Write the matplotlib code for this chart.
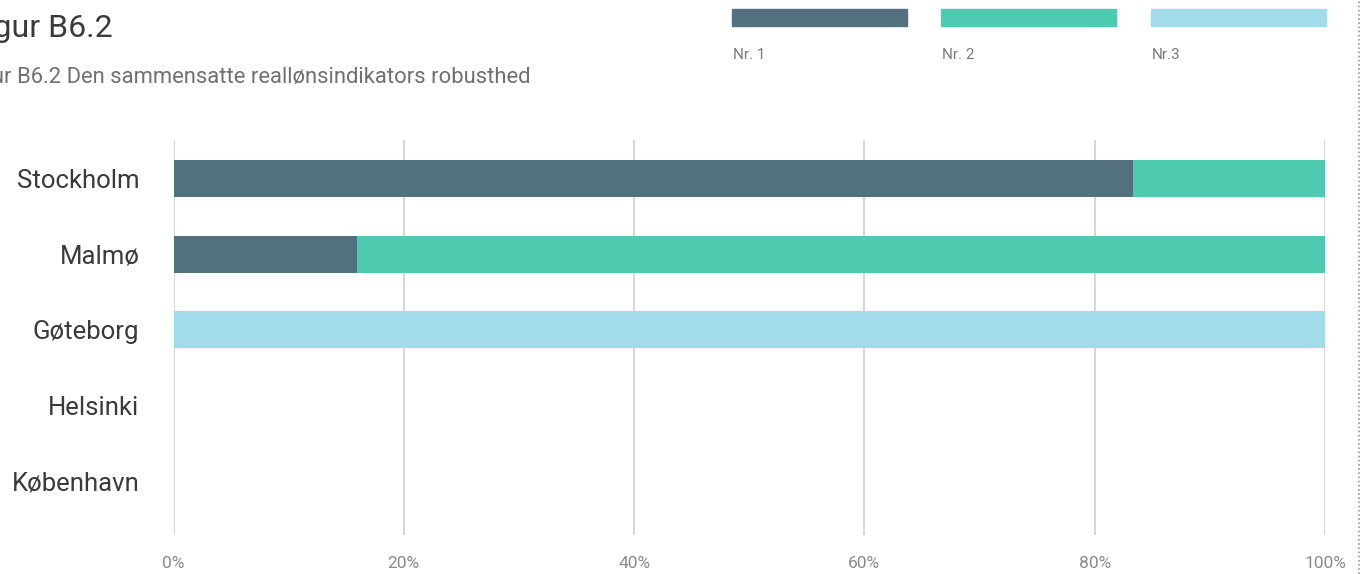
import matplotlib
matplotlib.use("Agg")
import matplotlib.pyplot as plt
from matplotlib.lines import Line2D
from matplotlib.patches import Rectangle

# Data
cities = ["Stockholm", "Malmø", "Gøteborg", "Helsinki", "København"]
series_names = ["Nr. 1", "Nr. 2", "Nr.3"]
nr1 = [83.3, 15.9, 0, 0, 0]
nr2 = [16.7, 84.1, 0, 0, 0]
nr3 = [0, 0, 100, 0, 0]
x_ticks = [0, 20, 40, 60, 80, 100]
x_tick_labels = ["0%", "20%", "40%", "60%", "80%", "100%"]

colors = ["#53707e", "#4ecab1", "#a2dcea"]
plt.rcParams["font.family"] = ["Roboto", "DejaVu Sans"]

W, H = 1362, 574
fig = plt.figure(figsize=(W / 100, H / 100), dpi=100)

def fx(px):
    return px / W

def fy(py):
    return 1 - py / H

ax = fig.add_axes([fx(173.5), fy(535), fx(1325) - fx(173.5), fy(140) - fy(535)])

ypos = list(range(len(cities)))
left = [0] * len(cities)
for vals, col in zip([nr1, nr2, nr3], colors):
    ax.barh(ypos, vals, left=left, height=0.49, color=col, zorder=3)
    left = [a + b for a, b in zip(left, vals)]

ax.set_xlim(0, 100)
ax.set_ylim(4.715, -0.51)
ax.set_xticks(x_ticks)
ax.set_xticklabels(x_tick_labels, color="#8a8a8a", fontsize=12.5)
ax.set_yticks(ypos)
ax.set_yticklabels(cities, color="#3a3a3a", fontsize=18.5)
ax.tick_params(axis="x", length=0, pad=15)
ax.tick_params(axis="y", length=0, pad=24.5)
ax.grid(axis="x", color="#d0d0d0", linewidth=1.2, zorder=0)
for s in ax.spines.values():
    s.set_visible(False)

# Title and subtitle
fig.text(fx(113), fy(37), "Figur B6.2", ha="right", va="baseline",
         fontsize=23, color="#3a3a3a")
fig.text(fx(531), fy(83), "Figur B6.2 Den sammensatte reallønsindikators robusthed",
         ha="right", va="baseline", fontsize=15.8, color="#707070")

# Legend swatches with labels underneath
legend_x = [732, 941, 1151]
for x0, col, name in zip(legend_x, colors, series_names):
    fig.patches.append(Rectangle((fx(x0), fy(26)), fx(175), fy(9) - fy(26),
                                 transform=fig.transFigure, color=col))
    fig.text(fx(x0 + 1), fy(59), name, ha="left", va="baseline",
             fontsize=11, color="#7a7a7a")

# Dotted border on the right
fig.lines.append(Line2D([fx(1358.5), fx(1358.5)], [0, 1], transform=fig.transFigure,
                        color="#999999", linewidth=1.2, linestyle=(0, (1, 1.5))))

fig.savefig("out.png", dpi=100, facecolor="white")
